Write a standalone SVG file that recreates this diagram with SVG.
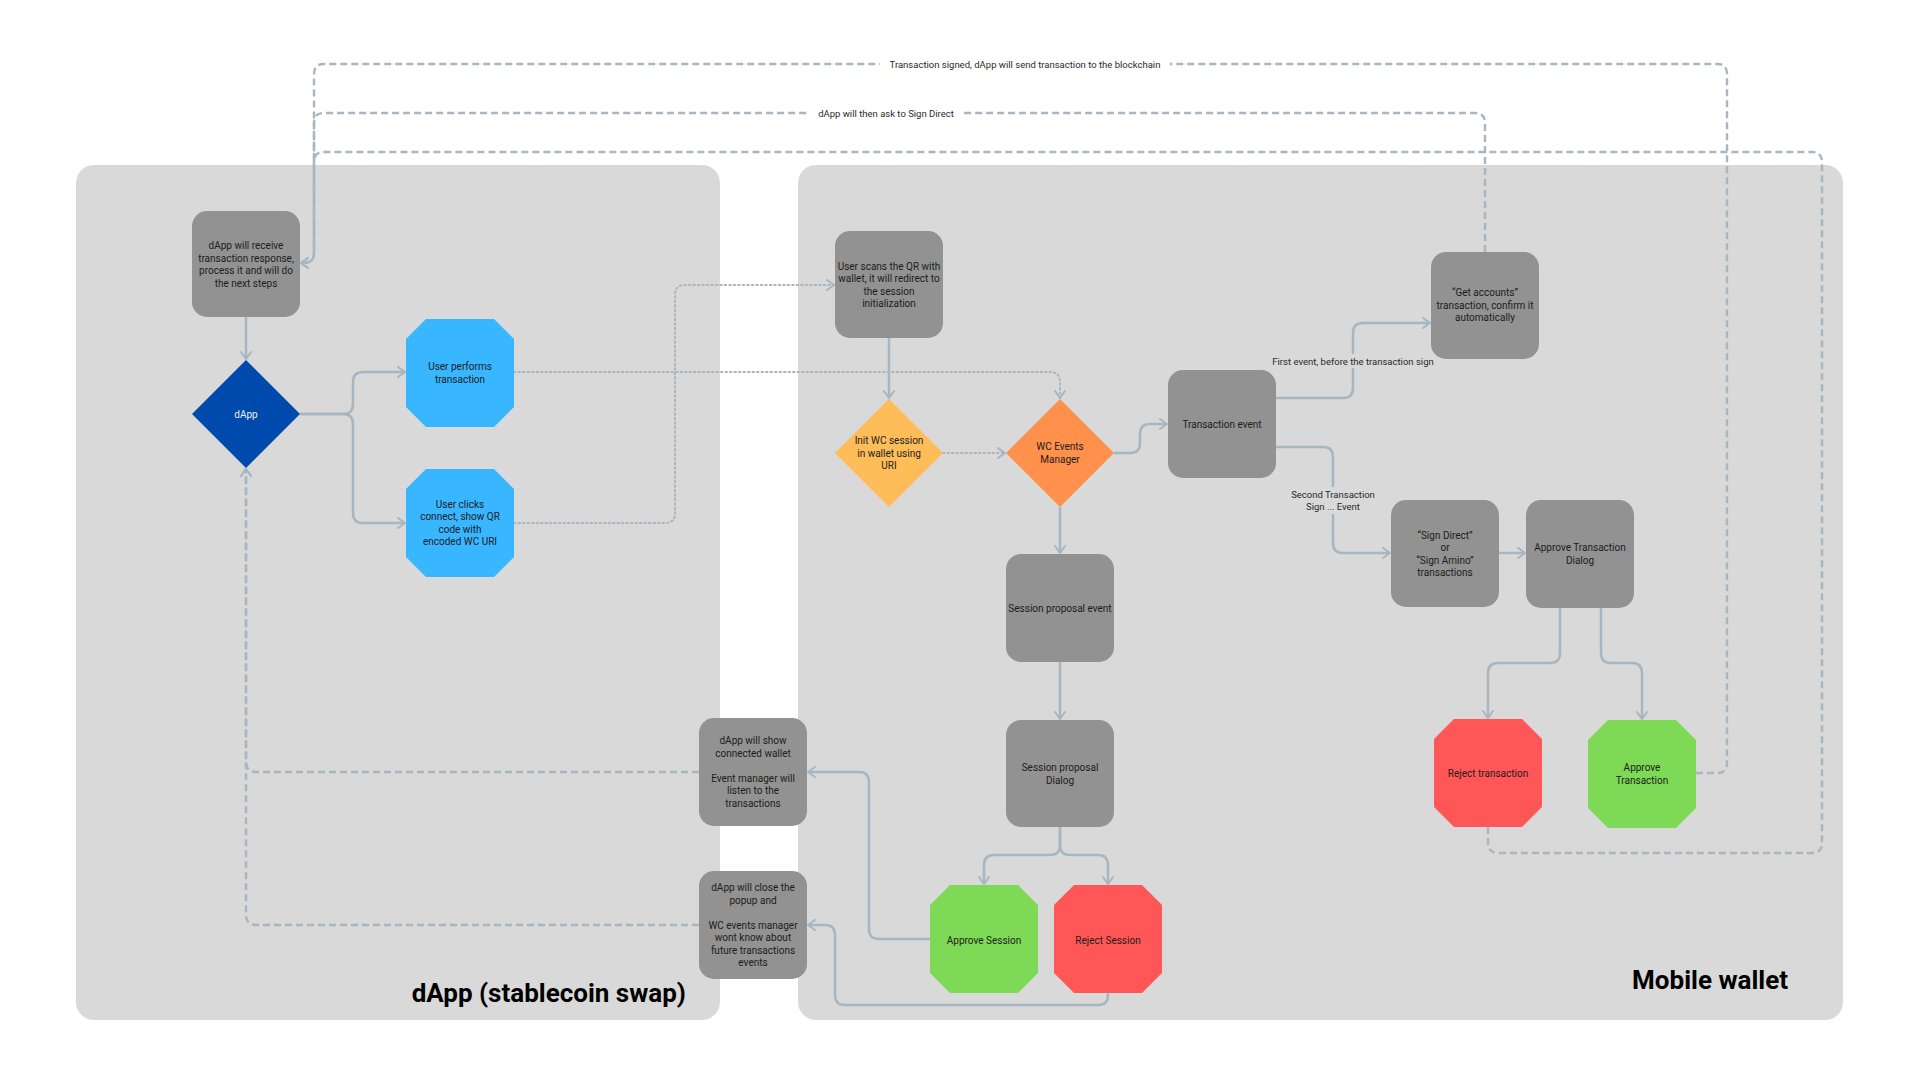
<svg xmlns="http://www.w3.org/2000/svg" width="1920" height="1080" viewBox="0 0 1920 1080">
  <style>
    .panel { fill: #d9d9d9; }
    .box { fill: #929292; }
    .blue { fill: #38b6ff; }
    .navy { fill: #004aad; }
    .amber { fill: #ffbd59; }
    .orange { fill: #ff914d; }
    .green { fill: #7ed957; }
    .red { fill: #ff5757; }
    text { font-family: Roboto, "Liberation Sans", sans-serif; font-size: 10px; fill: #1c1c1c; text-anchor: middle; }
    .light { fill: #eeeeee; }
    .lbl { font-size: 9.5px; fill: #2a2a2a; }
    .title { font-size: 26px; font-weight: bold; fill: #000000; text-anchor: end; }
    .c { fill: none; stroke: #a7b6c1; stroke-width: 2.5; marker-end: url(#arrow); }
    .d { fill: none; stroke: #a7b6c1; stroke-width: 2; stroke-dasharray: 1.5 3; stroke-linecap: round; marker-end: url(#arrow); }
    .k { fill: none; stroke: #a7b6c1; stroke-width: 2.4; stroke-dasharray: 7 4; marker-end: url(#arrow); }
    .head { fill: none; stroke: #a7b6c1; stroke-width: 2; stroke-dasharray: none; stroke-linejoin: round; stroke-linecap: round; }
  </style>
  <defs>
    <marker id="arrow" markerUnits="userSpaceOnUse" viewBox="0 0 10 12" refX="9" refY="6" markerWidth="10" markerHeight="12" orient="auto">
      <path class="head" d="M 2 1 L 9 6 L 2 11"/>
    </marker>
  </defs>

  <rect width="1920" height="1080" fill="#ffffff"/>

  <!-- swimlanes -->
  <g id="lane-dapp">
    <rect class="panel" x="76" y="165" width="644" height="855" rx="18"/>
    <text class="title" x="686" y="1002">dApp (stablecoin swap)</text>
  </g>
  <g id="lane-wallet">
    <rect class="panel" x="798" y="165" width="1045" height="855" rx="18"/>
    <text class="title" x="1788" y="989">Mobile wallet</text>
  </g>

  <!-- connectors -->
  <g id="connectors">
    <path class="c" d="M 246 317 V 359"/>
    <path class="c" d="M 300 414 H 343 Q 353 414 353 404 V 382 Q 353 372 363 372 H 405"/>
    <path class="c" d="M 300 414 H 343 Q 353 414 353 424 V 513 Q 353 523 363 523 H 405"/>
    <path class="c" d="M 889 338 V 398"/>
    <path class="c" d="M 1114 453 H 1130 Q 1140 453 1140 443 V 434 Q 1140 424 1150 424 H 1167"/>
    <path class="c" d="M 1276 398 H 1343 Q 1353 398 1353 388 V 333 Q 1353 323 1363 323 H 1430"/>
    <path class="c" d="M 1276 447 H 1323 Q 1333 447 1333 457 V 543 Q 1333 553 1343 553 H 1390"/>
    <path class="c" d="M 1499 553 H 1525"/>
    <path class="c" d="M 1560 608 V 653 Q 1560 663 1550 663 H 1498 Q 1488 663 1488 673 V 718"/>
    <path class="c" d="M 1601 608 V 653 Q 1601 663 1611 663 H 1632 Q 1642 663 1642 673 V 719"/>
    <path class="c" d="M 1060 507 V 553"/>
    <path class="c" d="M 1060 662 V 719"/>
    <path class="c" d="M 1060 827 V 845 Q 1060 855 1050 855 H 994 Q 984 855 984 865 V 884"/>
    <path class="c" d="M 1060 827 V 845 Q 1060 855 1070 855 H 1098 Q 1108 855 1108 865 V 884"/>
    <path class="c" d="M 930 939 H 879 Q 869 939 869 929 V 782 Q 869 772 859 772 H 808"/>
    <path class="c" d="M 1108 993 V 995 Q 1108 1005 1098 1005 H 845 Q 835 1005 835 995 V 935 Q 835 925 825 925 H 808"/>

    <path class="d" d="M 514 372 H 1050 Q 1060 372 1060 382 V 398"/>
    <path class="d" d="M 514 523 H 665 Q 675 523 675 513 V 295 Q 675 285 685 285 H 834"/>
    <path class="d" d="M 943 453 H 1005"/>

    <path class="k" d="M 1696 773 H 1717 Q 1727 773 1727 763 V 74 Q 1727 64 1717 64 H 324 Q 314 64 314 74 V 253 Q 314 263 304 263 H 301"/>
    <path class="k" d="M 1485 252 V 123 Q 1485 113 1475 113 H 324 Q 314 113 314 123 V 253 Q 314 263 304 263 H 301"/>
    <path class="k" d="M 1488 827 V 843 Q 1488 853 1498 853 H 1812 Q 1822 853 1822 843 V 162 Q 1822 152 1812 152 H 324 Q 314 152 314 162 V 253 Q 314 263 304 263 H 301"/>
    <path class="k" d="M 699 772 H 256 Q 246 772 246 762 V 469"/>
    <path class="k" d="M 699 925 H 256 Q 246 925 246 915 V 469"/>

    <!-- connector labels -->
    <rect x="880" y="57" width="290" height="14" fill="#ffffff"/>
    <text class="lbl" x="1025" y="67.5">Transaction signed, dApp will send transaction to the blockchain</text>
    <rect x="810" y="106" width="152" height="14" fill="#ffffff"/>
    <text class="lbl" x="886" y="116.5">dApp will then ask to Sign Direct</text>
    <rect x="1265" y="354" width="176" height="14" fill="#d9d9d9"/>
    <text class="lbl" x="1353" y="364.5">First event, before the transaction sign</text>
    <rect x="1290" y="487" width="86" height="27" fill="#d9d9d9"/>
    <text class="lbl" x="1333" y="497.5">Second Transaction<tspan x="1333" dy="12">Sign ... Event</tspan></text>
  </g>

  <!-- dApp lane nodes -->
  <g id="node-receive">
    <rect class="box" x="192" y="211" width="108" height="106" rx="15"/>
    <text x="246" y="249">dApp will receive<tspan x="246" dy="12.5">transaction response,</tspan><tspan x="246" dy="12.5">process it and will do</tspan><tspan x="246" dy="12.5">the next steps</tspan></text>
  </g>
  <g id="node-dapp">
    <polygon class="navy" points="246,360 300,414 246,468 192,414"/>
    <text class="light" x="246" y="417.5">dApp</text>
  </g>
  <g id="node-user-performs">
    <polygon class="blue" points="426,319 494,319 514,339 514,407 494,427 426,427 406,407 406,339"/>
    <text x="460" y="370.25">User performs<tspan x="460" dy="12.5">transaction</tspan></text>
  </g>
  <g id="node-user-clicks">
    <polygon class="blue" points="426,469 494,469 514,489 514,557 494,577 426,577 406,557 406,489"/>
    <text x="460" y="507.75">User clicks<tspan x="460" dy="12.5">connect, show QR</tspan><tspan x="460" dy="12.5">code with</tspan><tspan x="460" dy="12.5">encoded WC URI</tspan></text>
  </g>
  <g id="node-show-wallet">
    <rect class="box" x="699" y="718" width="108" height="108" rx="15"/>
    <text x="753" y="744.25">dApp will show<tspan x="753" dy="12.5">connected wallet</tspan><tspan x="753" dy="25">Event manager will</tspan><tspan x="753" dy="12.5">listen to the</tspan><tspan x="753" dy="12.5">transactions</tspan></text>
  </g>
  <g id="node-close-popup">
    <rect class="box" x="699" y="871" width="108" height="108" rx="15"/>
    <text x="753" y="891">dApp will close the<tspan x="753" dy="12.5">popup and</tspan><tspan x="753" dy="25">WC events manager</tspan><tspan x="753" dy="12.5">wont know about</tspan><tspan x="753" dy="12.5">future transactions</tspan><tspan x="753" dy="12.5">events</tspan></text>
  </g>

  <!-- wallet lane nodes -->
  <g id="node-scan">
    <rect class="box" x="835" y="231" width="108" height="107" rx="15"/>
    <text x="889" y="269.75">User scans the QR with<tspan x="889" dy="12.5">wallet, it will redirect to</tspan><tspan x="889" dy="12.5">the session</tspan><tspan x="889" dy="12.5">initialization</tspan></text>
  </g>
  <g id="node-init-session">
    <polygon class="amber" points="889,399 943,453 889,507 835,453"/>
    <text x="889" y="444">Init WC session<tspan x="889" dy="12.5">in wallet using</tspan><tspan x="889" dy="12.5">URI</tspan></text>
  </g>
  <g id="node-events-manager">
    <polygon class="orange" points="1060,399 1114,453 1060,507 1006,453"/>
    <text x="1060" y="450.25">WC Events<tspan x="1060" dy="12.5">Manager</tspan></text>
  </g>
  <g id="node-transaction-event">
    <rect class="box" x="1168" y="370" width="108" height="108" rx="15"/>
    <text x="1222" y="427.5">Transaction event</text>
  </g>
  <g id="node-get-accounts">
    <rect class="box" x="1431" y="252" width="108" height="107" rx="15"/>
    <text x="1485" y="296">“Get accounts”<tspan x="1485" dy="12.5">transaction, confirm it</tspan><tspan x="1485" dy="12.5">automatically</tspan></text>
  </g>
  <g id="node-sign">
    <rect class="box" x="1391" y="500" width="108" height="107" rx="15"/>
    <text x="1445" y="538.75">“Sign Direct”<tspan x="1445" dy="12.5">or</tspan><tspan x="1445" dy="12.5">“Sign Amino”</tspan><tspan x="1445" dy="12.5">transactions</tspan></text>
  </g>
  <g id="node-approve-dialog">
    <rect class="box" x="1526" y="500" width="108" height="108" rx="15"/>
    <text x="1580" y="551.25">Approve Transaction<tspan x="1580" dy="12.5">Dialog</tspan></text>
  </g>
  <g id="node-reject-transaction">
    <polygon class="red" points="1454,719 1522,719 1542,739 1542,807 1522,827 1454,827 1434,807 1434,739"/>
    <text x="1488" y="776.5">Reject transaction</text>
  </g>
  <g id="node-approve-transaction">
    <polygon class="green" points="1608,720 1676,720 1696,740 1696,808 1676,828 1608,828 1588,808 1588,740"/>
    <text x="1642" y="771.25">Approve<tspan x="1642" dy="12.5">Transaction</tspan></text>
  </g>
  <g id="node-session-event">
    <rect class="box" x="1006" y="554" width="108" height="108" rx="15"/>
    <text x="1060" y="611.5">Session proposal event</text>
  </g>
  <g id="node-session-dialog">
    <rect class="box" x="1006" y="720" width="108" height="107" rx="15"/>
    <text x="1060" y="771.25">Session proposal<tspan x="1060" dy="12.5">Dialog</tspan></text>
  </g>
  <g id="node-approve-session">
    <polygon class="green" points="950,885 1018,885 1038,905 1038,973 1018,993 950,993 930,973 930,905"/>
    <text x="984" y="943.5">Approve Session</text>
  </g>
  <g id="node-reject-session">
    <polygon class="red" points="1074,885 1142,885 1162,905 1162,973 1142,993 1074,993 1054,973 1054,905"/>
    <text x="1108" y="943.5">Reject Session</text>
  </g>
</svg>
